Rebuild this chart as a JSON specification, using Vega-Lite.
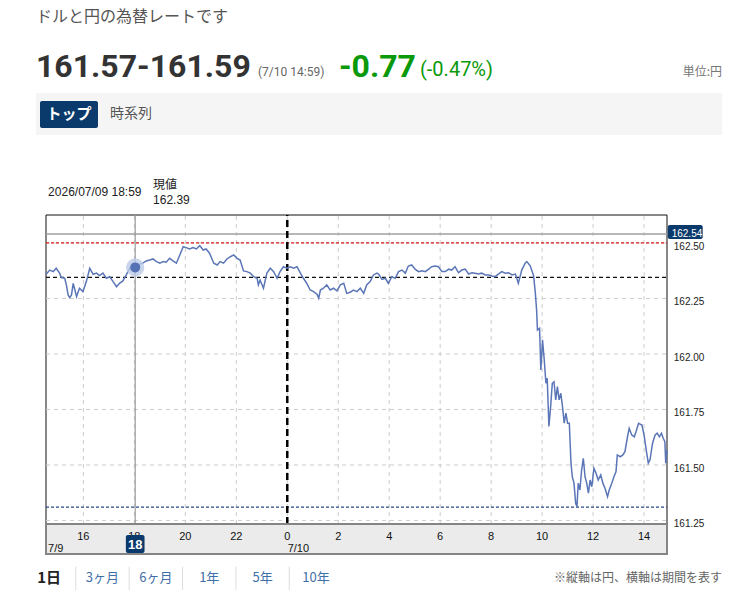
{
  "$schema": "https://vega.github.io/schema/vega-lite/v6.json",
  "width": 752,
  "height": 597,
  "autosize": {"type": "fit", "contains": "padding"},
  "padding": 0,
  "config": {"view": {"stroke": null}, "font": "Noto Sans CJK JP"},
  "data": {"values": [{}]},
  "datasets": {
    "rate": [
      {"t": "2026-07-09T14:32", "v": 162.359}, {"t": "2026-07-09T14:41", "v": 162.378}, {"t": "2026-07-09T14:49", "v": 162.371},
      {"t": "2026-07-09T14:56", "v": 162.386}, {"t": "2026-07-09T15:04", "v": 162.364}, {"t": "2026-07-09T15:08", "v": 162.344},
      {"t": "2026-07-09T15:16", "v": 162.341}, {"t": "2026-07-09T15:20", "v": 162.311}, {"t": "2026-07-09T15:24", "v": 162.266},
      {"t": "2026-07-09T15:28", "v": 162.254}, {"t": "2026-07-09T15:32", "v": 162.266}, {"t": "2026-07-09T15:36", "v": 162.318},
      {"t": "2026-07-09T15:40", "v": 162.288}, {"t": "2026-07-09T15:44", "v": 162.258}, {"t": "2026-07-09T15:48", "v": 162.281},
      {"t": "2026-07-09T15:51", "v": 162.296}, {"t": "2026-07-09T15:59", "v": 162.281}, {"t": "2026-07-09T16:07", "v": 162.326},
      {"t": "2026-07-09T16:15", "v": 162.386}, {"t": "2026-07-09T16:23", "v": 162.359}, {"t": "2026-07-09T16:31", "v": 162.364},
      {"t": "2026-07-09T16:38", "v": 162.353}, {"t": "2026-07-09T16:46", "v": 162.364}, {"t": "2026-07-09T16:54", "v": 162.341},
      {"t": "2026-07-09T17:02", "v": 162.348}, {"t": "2026-07-09T17:10", "v": 162.326}, {"t": "2026-07-09T17:18", "v": 162.303},
      {"t": "2026-07-09T17:25", "v": 162.318}, {"t": "2026-07-09T17:33", "v": 162.329}, {"t": "2026-07-09T17:41", "v": 162.356},
      {"t": "2026-07-09T17:49", "v": 162.386}, {"t": "2026-07-09T17:57", "v": 162.378}, {"t": "2026-07-09T18:02", "v": 162.39},
      {"t": "2026-07-09T18:12", "v": 162.404}, {"t": "2026-07-09T18:20", "v": 162.409}, {"t": "2026-07-09T18:28", "v": 162.419},
      {"t": "2026-07-09T18:36", "v": 162.423}, {"t": "2026-07-09T18:44", "v": 162.428}, {"t": "2026-07-09T18:52", "v": 162.416},
      {"t": "2026-07-09T19:00", "v": 162.409}, {"t": "2026-07-09T19:08", "v": 162.416}, {"t": "2026-07-09T19:15", "v": 162.413},
      {"t": "2026-07-09T19:23", "v": 162.431}, {"t": "2026-07-09T19:31", "v": 162.419}, {"t": "2026-07-09T19:39", "v": 162.409},
      {"t": "2026-07-09T19:47", "v": 162.446}, {"t": "2026-07-09T19:55", "v": 162.483}, {"t": "2026-07-09T20:02", "v": 162.479},
      {"t": "2026-07-09T20:10", "v": 162.473}, {"t": "2026-07-09T20:18", "v": 162.479}, {"t": "2026-07-09T20:26", "v": 162.473},
      {"t": "2026-07-09T20:34", "v": 162.488}, {"t": "2026-07-09T20:42", "v": 162.468}, {"t": "2026-07-09T20:49", "v": 162.473},
      {"t": "2026-07-09T20:57", "v": 162.454}, {"t": "2026-07-09T21:07", "v": 162.409}, {"t": "2026-07-09T21:15", "v": 162.401},
      {"t": "2026-07-09T21:22", "v": 162.416}, {"t": "2026-07-09T21:30", "v": 162.409}, {"t": "2026-07-09T21:38", "v": 162.428},
      {"t": "2026-07-09T21:46", "v": 162.438}, {"t": "2026-07-09T21:54", "v": 162.446}, {"t": "2026-07-09T22:02", "v": 162.431},
      {"t": "2026-07-09T22:09", "v": 162.423}, {"t": "2026-07-09T22:17", "v": 162.374}, {"t": "2026-07-09T22:25", "v": 162.371},
      {"t": "2026-07-09T22:33", "v": 162.364}, {"t": "2026-07-09T22:41", "v": 162.348}, {"t": "2026-07-09T22:49", "v": 162.341},
      {"t": "2026-07-09T22:52", "v": 162.311}, {"t": "2026-07-09T22:56", "v": 162.333}, {"t": "2026-07-09T23:04", "v": 162.296},
      {"t": "2026-07-09T23:12", "v": 162.364}, {"t": "2026-07-09T23:20", "v": 162.386}, {"t": "2026-07-09T23:28", "v": 162.371},
      {"t": "2026-07-09T23:36", "v": 162.341}, {"t": "2026-07-09T23:43", "v": 162.371}, {"t": "2026-07-09T23:51", "v": 162.393},
      {"t": "2026-07-09T23:59", "v": 162.386}, {"t": "2026-07-10T00:07", "v": 162.393}, {"t": "2026-07-10T00:15", "v": 162.386},
      {"t": "2026-07-10T00:23", "v": 162.393}, {"t": "2026-07-10T00:31", "v": 162.364}, {"t": "2026-07-10T00:38", "v": 162.341},
      {"t": "2026-07-10T00:46", "v": 162.318}, {"t": "2026-07-10T00:54", "v": 162.288}, {"t": "2026-07-10T01:02", "v": 162.281},
      {"t": "2026-07-10T01:10", "v": 162.269}, {"t": "2026-07-10T01:14", "v": 162.251}, {"t": "2026-07-10T01:18", "v": 162.288},
      {"t": "2026-07-10T01:25", "v": 162.296}, {"t": "2026-07-10T01:33", "v": 162.311}, {"t": "2026-07-10T01:41", "v": 162.288},
      {"t": "2026-07-10T01:49", "v": 162.296}, {"t": "2026-07-10T01:57", "v": 162.284}, {"t": "2026-07-10T02:05", "v": 162.311},
      {"t": "2026-07-10T02:13", "v": 162.318}, {"t": "2026-07-10T02:20", "v": 162.273}, {"t": "2026-07-10T02:28", "v": 162.278},
      {"t": "2026-07-10T02:36", "v": 162.288}, {"t": "2026-07-10T02:44", "v": 162.281}, {"t": "2026-07-10T02:52", "v": 162.296},
      {"t": "2026-07-10T03:00", "v": 162.273}, {"t": "2026-07-10T03:07", "v": 162.311}, {"t": "2026-07-10T03:15", "v": 162.326},
      {"t": "2026-07-10T03:23", "v": 162.356}, {"t": "2026-07-10T03:31", "v": 162.364}, {"t": "2026-07-10T03:35", "v": 162.36},
      {"t": "2026-07-10T03:43", "v": 162.336}, {"t": "2026-07-10T03:51", "v": 162.341}, {"t": "2026-07-10T03:58", "v": 162.318},
      {"t": "2026-07-10T04:06", "v": 162.348}, {"t": "2026-07-10T04:14", "v": 162.341}, {"t": "2026-07-10T04:22", "v": 162.371},
      {"t": "2026-07-10T04:30", "v": 162.378}, {"t": "2026-07-10T04:38", "v": 162.364}, {"t": "2026-07-10T04:45", "v": 162.396},
      {"t": "2026-07-10T04:53", "v": 162.401}, {"t": "2026-07-10T05:01", "v": 162.382}, {"t": "2026-07-10T05:09", "v": 162.371},
      {"t": "2026-07-10T05:17", "v": 162.375}, {"t": "2026-07-10T05:25", "v": 162.371}, {"t": "2026-07-10T05:33", "v": 162.382},
      {"t": "2026-07-10T05:40", "v": 162.393}, {"t": "2026-07-10T05:48", "v": 162.396}, {"t": "2026-07-10T05:56", "v": 162.393},
      {"t": "2026-07-10T06:04", "v": 162.371}, {"t": "2026-07-10T06:12", "v": 162.371}, {"t": "2026-07-10T06:20", "v": 162.382},
      {"t": "2026-07-10T06:27", "v": 162.378}, {"t": "2026-07-10T06:35", "v": 162.393}, {"t": "2026-07-10T06:43", "v": 162.366},
      {"t": "2026-07-10T06:51", "v": 162.378}, {"t": "2026-07-10T06:59", "v": 162.382}, {"t": "2026-07-10T07:07", "v": 162.36},
      {"t": "2026-07-10T07:15", "v": 162.366}, {"t": "2026-07-10T07:22", "v": 162.364}, {"t": "2026-07-10T07:30", "v": 162.36},
      {"t": "2026-07-10T07:38", "v": 162.364}, {"t": "2026-07-10T07:46", "v": 162.356}, {"t": "2026-07-10T07:54", "v": 162.356},
      {"t": "2026-07-10T08:02", "v": 162.351}, {"t": "2026-07-10T08:09", "v": 162.348}, {"t": "2026-07-10T08:17", "v": 162.36},
      {"t": "2026-07-10T08:25", "v": 162.371}, {"t": "2026-07-10T08:33", "v": 162.364}, {"t": "2026-07-10T08:41", "v": 162.366},
      {"t": "2026-07-10T08:49", "v": 162.356}, {"t": "2026-07-10T08:57", "v": 162.36}, {"t": "2026-07-10T09:04", "v": 162.318},
      {"t": "2026-07-10T09:12", "v": 162.378}, {"t": "2026-07-10T09:20", "v": 162.409}, {"t": "2026-07-10T09:24", "v": 162.416},
      {"t": "2026-07-10T09:32", "v": 162.397}, {"t": "2026-07-10T09:40", "v": 162.352}, {"t": "2026-07-10T09:44", "v": 162.275},
      {"t": "2026-07-10T09:47", "v": 162.198}, {"t": "2026-07-10T09:49", "v": 162.108}, {"t": "2026-07-10T09:54", "v": 162.116},
      {"t": "2026-07-10T09:57", "v": 161.928}, {"t": "2026-07-10T10:01", "v": 162.063}, {"t": "2026-07-10T10:05", "v": 161.973},
      {"t": "2026-07-10T10:09", "v": 161.868}, {"t": "2026-07-10T10:12", "v": 161.891}, {"t": "2026-07-10T10:16", "v": 161.673},
      {"t": "2026-07-10T10:20", "v": 161.763}, {"t": "2026-07-10T10:24", "v": 161.868}, {"t": "2026-07-10T10:28", "v": 161.875},
      {"t": "2026-07-10T10:32", "v": 161.793}, {"t": "2026-07-10T10:36", "v": 161.853}, {"t": "2026-07-10T10:40", "v": 161.793},
      {"t": "2026-07-10T10:44", "v": 161.823}, {"t": "2026-07-10T10:48", "v": 161.763}, {"t": "2026-07-10T10:52", "v": 161.688},
      {"t": "2026-07-10T10:56", "v": 161.733}, {"t": "2026-07-10T11:00", "v": 161.688}, {"t": "2026-07-10T11:04", "v": 161.688},
      {"t": "2026-07-10T11:08", "v": 161.508}, {"t": "2026-07-10T11:11", "v": 161.447}, {"t": "2026-07-10T11:15", "v": 161.418},
      {"t": "2026-07-10T11:19", "v": 161.327}, {"t": "2026-07-10T11:22", "v": 161.312}, {"t": "2026-07-10T11:25", "v": 161.418},
      {"t": "2026-07-10T11:29", "v": 161.387}, {"t": "2026-07-10T11:33", "v": 161.477}, {"t": "2026-07-10T11:37", "v": 161.53},
      {"t": "2026-07-10T11:41", "v": 161.447}, {"t": "2026-07-10T11:45", "v": 161.418}, {"t": "2026-07-10T11:49", "v": 161.373},
      {"t": "2026-07-10T11:53", "v": 161.432}, {"t": "2026-07-10T11:57", "v": 161.402}, {"t": "2026-07-10T12:02", "v": 161.485},
      {"t": "2026-07-10T12:07", "v": 161.463}, {"t": "2026-07-10T12:12", "v": 161.432}, {"t": "2026-07-10T12:18", "v": 161.455},
      {"t": "2026-07-10T12:23", "v": 161.418}, {"t": "2026-07-10T12:28", "v": 161.395}, {"t": "2026-07-10T12:34", "v": 161.357},
      {"t": "2026-07-10T12:38", "v": 161.387}, {"t": "2026-07-10T12:44", "v": 161.418}, {"t": "2026-07-10T12:49", "v": 161.447},
      {"t": "2026-07-10T12:54", "v": 161.47}, {"t": "2026-07-10T12:57", "v": 161.545}, {"t": "2026-07-10T13:04", "v": 161.537},
      {"t": "2026-07-10T13:10", "v": 161.545}, {"t": "2026-07-10T13:15", "v": 161.56}, {"t": "2026-07-10T13:21", "v": 161.627},
      {"t": "2026-07-10T13:25", "v": 161.665}, {"t": "2026-07-10T13:31", "v": 161.635}, {"t": "2026-07-10T13:37", "v": 161.627},
      {"t": "2026-07-10T13:41", "v": 161.65}, {"t": "2026-07-10T13:47", "v": 161.688}, {"t": "2026-07-10T13:55", "v": 161.68},
      {"t": "2026-07-10T14:00", "v": 161.635}, {"t": "2026-07-10T14:05", "v": 161.568}, {"t": "2026-07-10T14:10", "v": 161.508},
      {"t": "2026-07-10T14:14", "v": 161.523}, {"t": "2026-07-10T14:20", "v": 161.598}, {"t": "2026-07-10T14:26", "v": 161.635},
      {"t": "2026-07-10T14:31", "v": 161.643}, {"t": "2026-07-10T14:36", "v": 161.627}, {"t": "2026-07-10T14:41", "v": 161.643},
      {"t": "2026-07-10T14:45", "v": 161.62}, {"t": "2026-07-10T14:49", "v": 161.605}, {"t": "2026-07-10T14:51", "v": 161.508},
      {"t": "2026-07-10T14:54", "v": 161.568}
    ],
    "refs": [
      {"name": "上値", "v": 162.54},
      {"name": "高値", "v": 162.5},
      {"name": "前日終値", "v": 162.345},
      {"name": "安値", "v": 161.31}
    ],
    "ygrid": [{"v": 161.25}, {"v": 161.5}, {"v": 161.75}, {"v": 162.0}, {"v": 162.25}, {"v": 162.5}],
    "xgrid": [
      {"t": "2026-07-09T16:00"}, {"t": "2026-07-09T18:00"}, {"t": "2026-07-09T20:00"}, {"t": "2026-07-09T22:00"},
      {"t": "2026-07-10T00:00"}, {"t": "2026-07-10T02:00"}, {"t": "2026-07-10T04:00"}, {"t": "2026-07-10T06:00"},
      {"t": "2026-07-10T08:00"}, {"t": "2026-07-10T10:00"}, {"t": "2026-07-10T12:00"}, {"t": "2026-07-10T14:00"}
    ],
    "vlines": [
      {"t": "2026-07-09T18:02", "kind": "cursor"},
      {"t": "2026-07-10T00:00", "kind": "day"}
    ],
    "hover": [{"t": "2026-07-09T18:02", "start": "2026-07-09T17:40", "end": "2026-07-09T18:24", "v": 162.39}],
    "info": [
      {"t": "2026-07-09T14:37", "line": "date", "text": "2026/07/09 18:59"},
      {"t": "2026-07-09T18:44", "line": "label", "text": "現値"},
      {"t": "2026-07-09T18:44", "line": "value", "text": "162.39"}
    ],
    "daylabels": [
      {"t": "2026-07-09T14:37", "label": "7/9"},
      {"t": "2026-07-10T00:01", "label": "7/10"}
    ],
    "header": [
      {"role": "title", "slot": "lead", "text": "ドルと円の為替レートです"},
      {"role": "bid", "slot": "lead", "text": "161.57-161.59"},
      {"role": "time", "slot": "time", "text": "(7/10 14:59)"},
      {"role": "change", "slot": "change", "text": "-0.77"},
      {"role": "pct", "slot": "pct", "text": "(-0.47%)"},
      {"role": "unit", "slot": "unit", "text": "単位:円"}
    ],
    "tabs": [{"tab": "トップ", "selected": true}, {"tab": "時系列", "selected": false}],
    "ranges": [
      {"range": "1日", "selected": true},
      {"range": "3ヶ月", "selected": false},
      {"range": "6ヶ月", "selected": false},
      {"range": "1年", "selected": false},
      {"range": "5年", "selected": false},
      {"range": "10年", "selected": false}
    ],
    "note": [{"note": "※縦軸は円、横軸は期間を表す"}]
  },
  "resolve": {"scale": {"x": "independent", "y": "independent"}},
  "layer": [
    {
      "mark": {"type": "rect", "color": "#f5f5f5"},
      "encoding": {
        "x": {"datum": 0, "type": "quantitative", "axis": null, "scale": {"domain": [0, 1], "range": [36, 722]}},
        "x2": {"datum": 1},
        "y": {"datum": 0.77387, "type": "quantitative", "axis": null, "scale": {"domain": [0, 1], "range": [597, 0]}},
        "y2": {"datum": 0.84422}
      }
    },
    {
      "data": {"name": "tabs"},
      "transform": [{"filter": "datum.selected"}],
      "mark": {"type": "rect", "color": "#0a3a6b", "cornerRadius": 2},
      "encoding": {
        "x": {"field": "tab", "type": "nominal", "axis": null, "scale": {"type": "band", "domain": ["トップ", "時系列"], "range": [40, 160], "paddingInner": 0.065, "paddingOuter": 0}},
        "y": {"datum": 0.78559, "type": "quantitative", "axis": null, "scale": {"domain": [0, 1], "range": [597, 0]}},
        "y2": {"datum": 0.83082}
      }
    },
    {
      "data": {"name": "tabs"},
      "transform": [{"filter": "datum.selected"}],
      "mark": {"type": "text", "baseline": "middle", "fontSize": 15, "fontWeight": "bold", "color": "#ffffff"},
      "encoding": {
        "x": {"field": "tab", "type": "nominal", "axis": null, "scale": {"type": "band", "domain": ["トップ", "時系列"], "range": [40, 160], "paddingInner": 0.065, "paddingOuter": 0}},
        "y": {"datum": 0.80821, "type": "quantitative", "axis": null, "scale": {"domain": [0, 1], "range": [597, 0]}},
        "text": {"field": "tab"}
      }
    },
    {
      "data": {"name": "tabs"},
      "transform": [{"filter": "!datum.selected"}],
      "mark": {"type": "text", "baseline": "middle", "fontSize": 14, "color": "#555555"},
      "encoding": {
        "x": {"field": "tab", "type": "nominal", "axis": null, "scale": {"type": "band", "domain": ["トップ", "時系列"], "range": [40, 160], "paddingInner": 0.065, "paddingOuter": 0}},
        "y": {"datum": 0.80821, "type": "quantitative", "axis": null, "scale": {"domain": [0, 1], "range": [597, 0]}},
        "text": {"field": "tab"}
      }
    },
    {
      "data": {"name": "header"},
      "transform": [{"filter": "datum.role === 'title'"}],
      "mark": {"type": "text", "align": "left", "baseline": "middle", "fontSize": 16, "color": "#555555"},
      "encoding": {
        "x": {"field": "slot", "type": "nominal", "axis": null, "scale": {"type": "point", "domain": ["lead", "g1", "g2", "time", "change", "pct", "g3", "g4", "g5", "unit"], "range": [36, 722], "padding": 0}},
        "y": {"datum": 0.97069, "type": "quantitative", "axis": null, "scale": {"domain": [0, 1], "range": [597, 0]}},
        "text": {"field": "text"}
      }
    },
    {
      "data": {"name": "header"},
      "transform": [{"filter": "datum.role === 'bid'"}],
      "mark": {"type": "text", "align": "left", "baseline": "alphabetic", "font": "Roboto", "fontSize": 32, "fontWeight": "bold", "color": "#333333"},
      "encoding": {
        "x": {"field": "slot", "type": "nominal", "axis": null, "scale": {"type": "point", "domain": ["lead", "g1", "g2", "time", "change", "pct", "g3", "g4", "g5", "unit"], "range": [36, 722], "padding": 0}},
        "y": {"datum": 0.87102, "type": "quantitative", "axis": null, "scale": {"domain": [0, 1], "range": [597, 0]}},
        "text": {"field": "text"}
      }
    },
    {
      "data": {"name": "header"},
      "transform": [{"filter": "datum.role === 'time'"}],
      "mark": {"type": "text", "align": "left", "baseline": "alphabetic", "font": "Roboto", "fontSize": 12, "color": "#666666"},
      "encoding": {
        "x": {"field": "slot", "type": "nominal", "axis": null, "scale": {"type": "point", "domain": ["time", "change", "pct"], "range": [258, 420], "padding": 0}},
        "y": {"datum": 0.87353, "type": "quantitative", "axis": null, "scale": {"domain": [0, 1], "range": [597, 0]}},
        "text": {"field": "text"}
      }
    },
    {
      "data": {"name": "header"},
      "transform": [{"filter": "datum.role === 'change'"}],
      "mark": {"type": "text", "align": "left", "baseline": "alphabetic", "font": "Roboto", "fontSize": 32, "fontWeight": "bold", "color": "#0a990a"},
      "encoding": {
        "x": {"field": "slot", "type": "nominal", "axis": null, "scale": {"type": "point", "domain": ["time", "change", "pct"], "range": [258, 420], "padding": 0}},
        "y": {"datum": 0.87102, "type": "quantitative", "axis": null, "scale": {"domain": [0, 1], "range": [597, 0]}},
        "text": {"field": "text"}
      }
    },
    {
      "data": {"name": "header"},
      "transform": [{"filter": "datum.role === 'pct'"}],
      "mark": {"type": "text", "align": "left", "baseline": "alphabetic", "font": "Roboto", "fontSize": 20, "color": "#0a990a"},
      "encoding": {
        "x": {"field": "slot", "type": "nominal", "axis": null, "scale": {"type": "point", "domain": ["time", "change", "pct"], "range": [258, 420], "padding": 0}},
        "y": {"datum": 0.87353, "type": "quantitative", "axis": null, "scale": {"domain": [0, 1], "range": [597, 0]}},
        "text": {"field": "text"}
      }
    },
    {
      "data": {"name": "header"},
      "transform": [{"filter": "datum.role === 'unit'"}],
      "mark": {"type": "text", "align": "right", "baseline": "alphabetic", "fontSize": 12, "color": "#777777"},
      "encoding": {
        "x": {"field": "slot", "type": "nominal", "axis": null, "scale": {"type": "point", "domain": ["lead", "g1", "g2", "time", "change", "pct", "g3", "g4", "g5", "unit"], "range": [36, 722], "padding": 0}},
        "y": {"datum": 0.8727, "type": "quantitative", "axis": null, "scale": {"domain": [0, 1], "range": [597, 0]}},
        "text": {"field": "text"}
      }
    },
    {
      "data": {"name": "info"},
      "transform": [{"filter": "datum.line === 'date'"}],
      "mark": {"type": "text", "align": "left", "baseline": "middle", "font": "Liberation Sans", "fontSize": 12, "color": "#222222"},
      "encoding": {
        "x": {"field": "t", "type": "temporal", "axis": null, "scale": {"domain": [{"year": 2026, "month": 7, "date": 9, "hours": 14, "minutes": 32}, {"year": 2026, "month": 7, "date": 10, "hours": 14, "minutes": 54}], "range": [46, 667]}},
        "y": {"datum": 162.7274, "type": "quantitative", "axis": null, "scale": {"domain": [161.234, 162.626], "range": [524, 215], "nice": false, "zero": false}},
        "text": {"field": "text"}
      }
    },
    {
      "data": {"name": "info"},
      "transform": [{"filter": "datum.line === 'label'"}],
      "mark": {"type": "text", "align": "left", "baseline": "middle", "fontSize": 12, "color": "#222222"},
      "encoding": {
        "x": {"field": "t", "type": "temporal", "axis": null, "scale": {"domain": [{"year": 2026, "month": 7, "date": 9, "hours": 14, "minutes": 32}, {"year": 2026, "month": 7, "date": 10, "hours": 14, "minutes": 54}], "range": [46, 667]}},
        "y": {"datum": 162.7611, "type": "quantitative", "axis": null, "scale": {"domain": [161.234, 162.626], "range": [524, 215], "nice": false, "zero": false}},
        "text": {"field": "text"}
      }
    },
    {
      "data": {"name": "info"},
      "transform": [{"filter": "datum.line === 'value'"}],
      "mark": {"type": "text", "align": "left", "baseline": "middle", "font": "Liberation Sans", "fontSize": 12, "color": "#222222"},
      "encoding": {
        "x": {"field": "t", "type": "temporal", "axis": null, "scale": {"domain": [{"year": 2026, "month": 7, "date": 9, "hours": 14, "minutes": 32}, {"year": 2026, "month": 7, "date": 10, "hours": 14, "minutes": 54}], "range": [46, 667]}},
        "y": {"datum": 162.6936, "type": "quantitative", "axis": null, "scale": {"domain": [161.234, 162.626], "range": [524, 215], "nice": false, "zero": false}},
        "text": {"field": "text"}
      }
    },
    {
      "mark": {"type": "rect", "filled": false, "color": "#111111", "strokeWidth": 1},
      "encoding": {
        "x": {"datum": {"year": 2026, "month": 7, "date": 9, "hours": 14, "minutes": 32}, "type": "temporal", "axis": null, "scale": {"domain": [{"year": 2026, "month": 7, "date": 9, "hours": 14, "minutes": 32}, {"year": 2026, "month": 7, "date": 10, "hours": 14, "minutes": 54}], "range": [46, 667]}},
        "x2": {"datum": {"year": 2026, "month": 7, "date": 10, "hours": 14, "minutes": 54}},
        "y": {"datum": 161.234, "type": "quantitative", "axis": null, "scale": {"domain": [161.234, 162.626], "range": [524, 215], "nice": false, "zero": false}},
        "y2": {"datum": 162.626}
      }
    },
    {
      "data": {"name": "ygrid"},
      "mark": {"type": "rule", "color": "#cccccc", "strokeWidth": 1, "strokeDash": [4, 4]},
      "encoding": {
        "x": {"datum": {"year": 2026, "month": 7, "date": 9, "hours": 14, "minutes": 32}, "type": "temporal", "axis": null, "scale": {"domain": [{"year": 2026, "month": 7, "date": 9, "hours": 14, "minutes": 32}, {"year": 2026, "month": 7, "date": 10, "hours": 14, "minutes": 54}], "range": [46, 667]}},
        "x2": {"datum": {"year": 2026, "month": 7, "date": 10, "hours": 14, "minutes": 54}},
        "y": {"field": "v", "type": "quantitative", "axis": null, "scale": {"domain": [161.234, 162.626], "range": [524, 215], "nice": false, "zero": false}}
      }
    },
    {
      "data": {"name": "xgrid"},
      "mark": {"type": "rule", "color": "#cccccc", "strokeWidth": 1, "strokeDash": [4, 4]},
      "encoding": {
        "x": {"field": "t", "type": "temporal", "axis": null, "scale": {"domain": [{"year": 2026, "month": 7, "date": 9, "hours": 14, "minutes": 32}, {"year": 2026, "month": 7, "date": 10, "hours": 14, "minutes": 54}], "range": [46, 667]}},
        "y": {"datum": 161.234, "type": "quantitative", "axis": null, "scale": {"domain": [161.234, 162.626], "range": [524, 215], "nice": false, "zero": false}},
        "y2": {"datum": 162.626}
      }
    },
    {
      "data": {"name": "refs"},
      "transform": [{"filter": "datum.name !== '上値'"}],
      "mark": {"type": "rule", "strokeWidth": 1.2},
      "encoding": {
        "x": {"datum": {"year": 2026, "month": 7, "date": 9, "hours": 14, "minutes": 32}, "type": "temporal", "axis": null, "scale": {"domain": [{"year": 2026, "month": 7, "date": 9, "hours": 14, "minutes": 32}, {"year": 2026, "month": 7, "date": 10, "hours": 14, "minutes": 54}], "range": [46, 667]}},
        "x2": {"datum": {"year": 2026, "month": 7, "date": 10, "hours": 14, "minutes": 54}},
        "y": {"field": "v", "type": "quantitative", "axis": null, "scale": {"domain": [161.234, 162.626], "range": [524, 215], "nice": false, "zero": false}},
        "color": {"field": "name", "type": "nominal", "legend": null,
                  "scale": {"domain": ["高値", "前日終値", "安値"], "range": ["#e01818", "#111111", "#2d4b86"]}},
        "strokeDash": {"field": "name", "type": "nominal", "legend": null,
                       "scale": {"domain": ["高値", "前日終値", "安値"], "range": [[3, 2], [4, 3], [3, 2]]}}
      }
    },
    {
      "data": {"name": "refs"},
      "transform": [{"filter": "datum.name === '上値'"}],
      "mark": {"type": "rule", "strokeWidth": 1.5, "color": "#a0a0a0"},
      "encoding": {
        "x": {"datum": {"year": 2026, "month": 7, "date": 9, "hours": 14, "minutes": 32}, "type": "temporal", "axis": null, "scale": {"domain": [{"year": 2026, "month": 7, "date": 9, "hours": 14, "minutes": 32}, {"year": 2026, "month": 7, "date": 10, "hours": 14, "minutes": 54}], "range": [46, 667]}},
        "x2": {"datum": {"year": 2026, "month": 7, "date": 10, "hours": 14, "minutes": 54}},
        "y": {"field": "v", "type": "quantitative", "axis": null, "scale": {"domain": [161.234, 162.626], "range": [524, 215], "nice": false, "zero": false}}
      }
    },
    {
      "data": {"name": "vlines"},
      "transform": [{"filter": "datum.kind === 'cursor'"}],
      "mark": {"type": "rule", "color": "#9a9a9a", "strokeWidth": 1.2},
      "encoding": {
        "x": {"field": "t", "type": "temporal", "axis": null, "scale": {"domain": [{"year": 2026, "month": 7, "date": 9, "hours": 14, "minutes": 32}, {"year": 2026, "month": 7, "date": 10, "hours": 14, "minutes": 54}], "range": [46, 667]}},
        "y": {"datum": 161.234, "type": "quantitative", "axis": null, "scale": {"domain": [161.234, 162.626], "range": [524, 215], "nice": false, "zero": false}},
        "y2": {"datum": 162.626}
      }
    },
    {
      "data": {"name": "vlines"},
      "transform": [{"filter": "datum.kind === 'day'"}],
      "mark": {"type": "rule", "color": "#000000", "strokeWidth": 2.5, "strokeDash": [7, 4]},
      "encoding": {
        "x": {"field": "t", "type": "temporal", "axis": null, "scale": {"domain": [{"year": 2026, "month": 7, "date": 9, "hours": 14, "minutes": 32}, {"year": 2026, "month": 7, "date": 10, "hours": 14, "minutes": 54}], "range": [46, 667]}},
        "y": {"datum": 161.234, "type": "quantitative", "axis": null, "scale": {"domain": [161.234, 162.626], "range": [524, 215], "nice": false, "zero": false}},
        "y2": {"datum": 162.626}
      }
    },
    {
      "data": {"name": "rate"},
      "mark": {"type": "line", "color": "#5b76b7", "strokeWidth": 1.5},
      "encoding": {
        "x": {"field": "t", "type": "temporal", "axis": null, "scale": {"domain": [{"year": 2026, "month": 7, "date": 9, "hours": 14, "minutes": 32}, {"year": 2026, "month": 7, "date": 10, "hours": 14, "minutes": 54}], "range": [46, 667]}},
        "y": {"field": "v", "type": "quantitative", "axis": null, "scale": {"domain": [161.234, 162.626], "range": [524, 215], "nice": false, "zero": false}}
      }
    },
    {
      "data": {"name": "hover"},
      "mark": {"type": "point", "filled": true, "color": "#bccae8", "size": 330, "opacity": 0.8},
      "encoding": {
        "x": {"field": "t", "type": "temporal", "axis": null, "scale": {"domain": [{"year": 2026, "month": 7, "date": 9, "hours": 14, "minutes": 32}, {"year": 2026, "month": 7, "date": 10, "hours": 14, "minutes": 54}], "range": [46, 667]}},
        "y": {"field": "v", "type": "quantitative", "axis": null, "scale": {"domain": [161.234, 162.626], "range": [524, 215], "nice": false, "zero": false}}
      }
    },
    {
      "data": {"name": "hover"},
      "mark": {"type": "point", "filled": true, "color": "#5570b4", "size": 100, "opacity": 1},
      "encoding": {
        "x": {"field": "t", "type": "temporal", "axis": null, "scale": {"domain": [{"year": 2026, "month": 7, "date": 9, "hours": 14, "minutes": 32}, {"year": 2026, "month": 7, "date": 10, "hours": 14, "minutes": 54}], "range": [46, 667]}},
        "y": {"field": "v", "type": "quantitative", "axis": null, "scale": {"domain": [161.234, 162.626], "range": [524, 215], "nice": false, "zero": false}}
      }
    },
    {
      "data": {"name": "refs"},
      "transform": [{"filter": "datum.name === '上値'"}],
      "mark": {"type": "rect", "color": "#0a3a6b", "cornerRadius": 2},
      "encoding": {
        "x": {"datum": {"year": 2026, "month": 7, "date": 10, "hours": 14, "minutes": 56}, "type": "temporal", "axis": null, "scale": {"domain": [{"year": 2026, "month": 7, "date": 9, "hours": 14, "minutes": 32}, {"year": 2026, "month": 7, "date": 10, "hours": 14, "minutes": 54}], "range": [46, 667]}},
        "x2": {"datum": {"year": 2026, "month": 7, "date": 10, "hours": 16, "minutes": 18}},
        "y": {"datum": 162.5179, "type": "quantitative", "axis": null, "scale": {"domain": [161.234, 162.626], "range": [524, 215], "nice": false, "zero": false}},
        "y2": {"datum": 162.581}
      }
    },
    {
      "data": {"name": "refs"},
      "transform": [{"filter": "datum.name === '上値'"}],
      "mark": {"type": "text", "align": "left", "baseline": "middle", "font": "Liberation Sans", "fontSize": 10, "color": "#ffffff"},
      "encoding": {
        "x": {"datum": {"year": 2026, "month": 7, "date": 10, "hours": 15, "minutes": 5}, "type": "temporal", "axis": null, "scale": {"domain": [{"year": 2026, "month": 7, "date": 9, "hours": 14, "minutes": 32}, {"year": 2026, "month": 7, "date": 10, "hours": 14, "minutes": 54}], "range": [46, 667]}},
        "y": {"field": "v", "type": "quantitative", "axis": null, "scale": {"domain": [161.234, 162.626], "range": [524, 215], "nice": false, "zero": false}},
        "text": {"field": "v", "type": "quantitative", "format": ".2f"}
      }
    },
    {
      "data": {"name": "ygrid"},
      "mark": {"type": "text", "align": "left", "baseline": "middle", "dy": 4, "font": "Liberation Sans", "fontSize": 10, "color": "#222222"},
      "encoding": {
        "x": {"datum": {"year": 2026, "month": 7, "date": 10, "hours": 15, "minutes": 10}, "type": "temporal", "axis": null, "scale": {"domain": [{"year": 2026, "month": 7, "date": 9, "hours": 14, "minutes": 32}, {"year": 2026, "month": 7, "date": 10, "hours": 14, "minutes": 54}], "range": [46, 667]}},
        "y": {"field": "v", "type": "quantitative", "axis": null, "scale": {"domain": [161.234, 162.626], "range": [524, 215], "nice": false, "zero": false}},
        "text": {"field": "v", "type": "quantitative", "format": ".2f"}
      }
    },
    {
      "mark": {"type": "rect", "color": "#ebebeb", "stroke": "#858585", "strokeWidth": 2},
      "encoding": {
        "x": {"datum": {"year": 2026, "month": 7, "date": 9, "hours": 14, "minutes": 32}, "type": "temporal", "axis": null, "scale": {"domain": [{"year": 2026, "month": 7, "date": 9, "hours": 14, "minutes": 32}, {"year": 2026, "month": 7, "date": 10, "hours": 14, "minutes": 54}], "range": [46, 667]}},
        "x2": {"datum": {"year": 2026, "month": 7, "date": 10, "hours": 14, "minutes": 54}},
        "y": {"datum": 161.099, "type": "quantitative", "axis": null, "scale": {"domain": [161.234, 162.626], "range": [524, 215], "nice": false, "zero": false}},
        "y2": {"datum": 161.234}
      }
    },
    {
      "data": {"name": "xgrid"},
      "mark": {"type": "text", "baseline": "middle", "font": "Liberation Sans", "fontSize": 11, "color": "#111111"},
      "encoding": {
        "x": {"field": "t", "type": "temporal", "axis": null, "scale": {"domain": [{"year": 2026, "month": 7, "date": 9, "hours": 14, "minutes": 32}, {"year": 2026, "month": 7, "date": 10, "hours": 14, "minutes": 54}], "range": [46, 667]}},
        "y": {"datum": 161.1756, "type": "quantitative", "axis": null, "scale": {"domain": [161.234, 162.626], "range": [524, 215], "nice": false, "zero": false}},
        "text": {"field": "t", "type": "temporal", "format": "%-H"}
      }
    },
    {
      "data": {"name": "daylabels"},
      "mark": {"type": "text", "align": "left", "baseline": "middle", "font": "Liberation Sans", "fontSize": 11, "color": "#111111"},
      "encoding": {
        "x": {"field": "t", "type": "temporal", "axis": null, "scale": {"domain": [{"year": 2026, "month": 7, "date": 9, "hours": 14, "minutes": 32}, {"year": 2026, "month": 7, "date": 10, "hours": 14, "minutes": 54}], "range": [46, 667]}},
        "y": {"datum": 161.1215, "type": "quantitative", "axis": null, "scale": {"domain": [161.234, 162.626], "range": [524, 215], "nice": false, "zero": false}},
        "text": {"field": "label"}
      }
    },
    {
      "data": {"name": "hover"},
      "mark": {"type": "rect", "color": "#0a3a6b", "cornerRadius": 2},
      "encoding": {
        "x": {"field": "start", "type": "temporal", "axis": null, "scale": {"domain": [{"year": 2026, "month": 7, "date": 9, "hours": 14, "minutes": 32}, {"year": 2026, "month": 7, "date": 10, "hours": 14, "minutes": 54}], "range": [46, 667]}},
        "x2": {"field": "end"},
        "y": {"datum": 161.1035, "type": "quantitative", "axis": null, "scale": {"domain": [161.234, 162.626], "range": [524, 215], "nice": false, "zero": false}},
        "y2": {"datum": 161.1846}
      }
    },
    {
      "data": {"name": "hover"},
      "mark": {"type": "text", "baseline": "middle", "font": "Liberation Sans", "fontSize": 13, "fontWeight": "bold", "color": "#ffffff"},
      "encoding": {
        "x": {"field": "t", "type": "temporal", "axis": null, "scale": {"domain": [{"year": 2026, "month": 7, "date": 9, "hours": 14, "minutes": 32}, {"year": 2026, "month": 7, "date": 10, "hours": 14, "minutes": 54}], "range": [46, 667]}},
        "y": {"datum": 161.1396, "type": "quantitative", "axis": null, "scale": {"domain": [161.234, 162.626], "range": [524, 215], "nice": false, "zero": false}},
        "text": {"field": "t", "type": "temporal", "format": "%-H"}
      }
    },
    {
      "data": {"name": "ranges"},
      "transform": [{"filter": "datum.selected"}],
      "mark": {"type": "text", "baseline": "middle", "fontSize": 15, "fontWeight": "bold", "color": "#222222"},
      "encoding": {
        "x": {"field": "range", "type": "nominal", "axis": null, "scale": {"type": "point", "domain": ["1日", "3ヶ月", "6ヶ月", "1年", "5年", "10年"], "range": [49.1, 316], "padding": 0}},
        "y": {"datum": 0.03099, "type": "quantitative", "axis": null, "scale": {"domain": [0, 1], "range": [597, 0]}},
        "text": {"field": "range"}
      }
    },
    {
      "data": {"name": "ranges"},
      "transform": [{"filter": "!datum.selected"}],
      "mark": {"type": "text", "baseline": "middle", "fontSize": 13, "color": "#3f6fa8"},
      "encoding": {
        "x": {"field": "range", "type": "nominal", "axis": null, "scale": {"type": "point", "domain": ["1日", "3ヶ月", "6ヶ月", "1年", "5年", "10年"], "range": [49.1, 316], "padding": 0}},
        "y": {"datum": 0.03099, "type": "quantitative", "axis": null, "scale": {"domain": [0, 1], "range": [597, 0]}},
        "text": {"field": "range"}
      }
    },
    {
      "data": {"name": "ranges"},
      "transform": [{"filter": "!datum.selected"}],
      "mark": {"type": "rule", "color": "#dddddd", "strokeWidth": 1},
      "encoding": {
        "x": {"field": "range", "type": "nominal", "axis": null, "scale": {"type": "point", "domain": ["3ヶ月", "6ヶ月", "1年", "5年", "10年"], "range": [75.8, 289.3], "padding": 0}},
        "y": {"datum": 0.01173, "type": "quantitative", "axis": null, "scale": {"domain": [0, 1], "range": [597, 0]}},
        "y2": {"datum": 0.05075}
      }
    },
    {
      "data": {"name": "note"},
      "mark": {"type": "text", "align": "right", "baseline": "middle", "fontSize": 12, "color": "#666666"},
      "encoding": {
        "x": {"datum": 1, "type": "quantitative", "axis": null, "scale": {"domain": [0, 1], "range": [36, 722]}},
        "y": {"datum": 0.03099, "type": "quantitative", "axis": null, "scale": {"domain": [0, 1], "range": [597, 0]}},
        "text": {"field": "note"}
      }
    }
  ]
}
